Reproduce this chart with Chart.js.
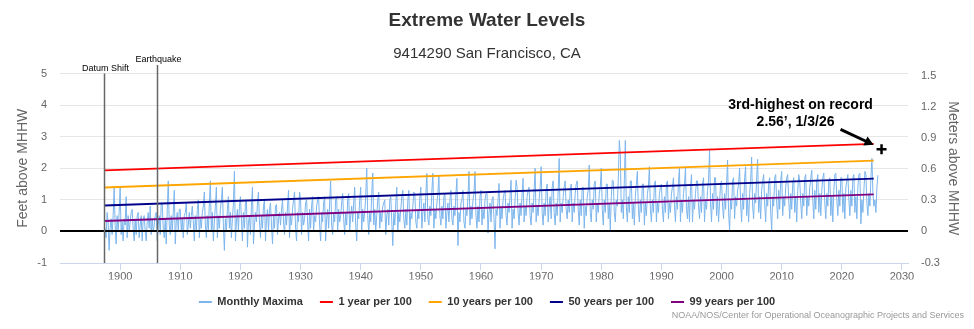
<!DOCTYPE html>
<html><head><meta charset="utf-8">
<script src="https://cdn.jsdelivr.net/npm/chart.js@4.4.0/dist/chart.umd.min.js"></script>
<style>html,body{margin:0;padding:0;background:#fff;}#wrap{width:974px;height:329px;}</style>
</head><body><div id="wrap"><canvas id="c" width="974" height="329"></canvas></div>
<script>
// ---------- text ----------
const chartTitle = 'Extreme Water Levels';
const chartSubtitle = '9414290 San Francisco, CA';
const creditText = 'NOAA/NOS/Center for Operational Oceanographic Projects and Services';
const leftAxisTitle = 'Feet above MHHW';
const rightAxisTitle = 'Meters above MHHW';

// ---------- ticks ----------
const xTickYears = [1900,1910,1920,1930,1940,1950,1960,1970,1980,1990,2000,2010,2020,2030];
const feetTicks = [-1,0,1,2,3,4,5];
const meterTicks = [-0.3,0,0.3,0.6,0.9,1.2,1.5];

// ---------- monthly maxima (feet above MHHW), read every 2 months from Jul 1897 ----------
const maximaStartYear = 1897.5;
const maximaStepYears = 1 / 6;
const maxima1897to1929 = [
  0.1,-0.2,0.6,
  0.3,-0.6,0.1,0.4,-0.1,0.5,
  1.4,0.2,-0.4,0.5,0.0,0.6,
  1.4,-0.1,0.3,-0.3,0.4,0.2,
  1.1,-0.2,0.5,0.0,0.3,0.6,
  0.7,0.1,-0.3,0.4,-0.1,0.5,
  0.6,-0.2,0.2,0.5,-0.3,0.4,
  0.5,0.0,-0.3,0.3,0.6,0.1,
  0.8,-0.1,0.4,0.0,0.2,0.5,
  0.6,-0.3,0.2,0.5,-0.1,0.9,
  0.9,0.1,-0.2,0.4,-0.4,0.7,
  1.6,0.2,-0.1,0.5,0.0,0.6,
  1.3,-0.4,0.3,0.6,0.0,0.7,
  0.7,0.0,0.4,-0.2,0.5,0.6,
  0.9,-0.1,0.2,0.6,0.1,0.5,
  0.8,0.3,-0.3,0.5,0.0,0.7,
  1.0,-0.2,0.4,0.1,0.6,0.8,
  1.25,0.2,-0.2,0.5,0.0,0.9,
  1.6,0.0,0.6,-0.3,0.3,0.8,
  1.4,-0.2,0.5,0.1,0.7,1.0,
  1.4,0.2,-0.6,0.4,0.0,0.7,
  1.1,0.1,0.6,-0.2,0.4,0.9,
  1.9,-0.3,0.3,0.7,0.0,0.8,
  1.1,0.4,-0.3,0.6,0.1,0.9,
  1.0,-0.5,0.3,0.5,-0.1,0.8,
  1.4,-0.4,0.2,0.6,0.3,0.9,
  1.25,0.3,-0.2,0.5,0.1,0.8,
  1.0,-0.3,0.4,0.7,0.0,0.7,
  0.9,0.2,-0.4,0.5,0.1,0.8,
  0.85,-0.1,0.4,0.6,0.2,0.7,
  1.0,0.3,-0.1,0.6,0.2,0.8,
  1.3,-0.2,0.5,0.2,0.7,1.0,
  1.25,0.1,-0.3,0.6,0.3,1.25
];
const maxima1930to1959 = [
  1.0,-0.1,0.6,0.2,0.4,0.9,
  1.0,0.3,-0.3,0.7,0.1,0.8,
  1.1,0.0,0.5,0.3,0.8,1.0,
  1.1,0.2,-0.3,0.6,0.3,0.9,
  1.1,-0.3,0.4,0.7,0.1,0.9,
  1.6,0.2,-0.1,0.6,0.3,1.0,
  1.1,0.0,0.7,0.3,0.5,0.9,
  1.2,0.4,-0.1,0.6,0.2,1.0,
  1.2,0.0,0.5,0.8,0.3,0.9,
  1.4,0.2,-0.3,0.6,0.4,1.0,
  1.4,0.0,0.7,0.3,0.6,1.1,
  2.0,0.5,-0.1,0.6,0.3,1.2,
  1.85,0.2,0.7,0.0,0.5,1.0,
  1.25,0.1,0.6,0.3,0.8,0.9,
  1.0,-0.1,0.5,0.7,0.2,1.0,
  1.1,0.3,-0.45,0.6,0.2,0.9,
  1.4,0.0,0.6,0.3,0.7,1.1,
  1.3,0.4,0.1,0.7,0.2,1.0,
  1.3,0.0,0.6,0.4,0.8,1.25,
  1.2,0.3,0.1,0.7,0.4,1.1,
  1.4,0.1,0.6,0.9,0.3,1.2,
  1.84,0.4,0.2,0.8,0.5,1.3,
  1.84,0.1,0.7,0.4,0.9,1.2,
  1.78,0.5,0.2,0.8,0.4,1.1,
  1.2,0.1,0.6,0.9,0.3,1.0,
  1.3,0.4,0.2,0.8,0.5,1.2,
  1.68,-0.45,0.6,0.3,0.9,1.0,
  1.3,0.3,0.1,0.7,0.5,1.1,
  1.9,0.2,0.8,0.4,1.0,1.2,
  1.9,0.5,0.1,0.8,0.3,1.1
];
const maxima1960to1989 = [
  1.3,0.2,0.7,0.4,1.0,1.2,
  1.2,-0.05,0.6,0.9,0.3,1.0,
  1.1,0.4,-0.55,0.7,0.5,1.0,
  1.52,0.1,0.8,0.4,1.0,1.2,
  1.3,0.5,0.2,0.9,0.6,1.1,
  1.62,0.1,0.7,0.4,1.0,1.62,
  1.4,0.6,0.2,0.9,0.5,1.2,
  1.68,0.3,0.8,0.5,1.1,1.3,
  1.4,0.5,0.2,0.9,0.6,1.3,
  2.0,0.3,0.8,0.5,1.0,1.4,
  2.05,0.6,0.2,0.9,0.5,1.3,
  1.5,0.3,0.8,1.1,0.4,1.4,
  1.6,0.6,0.2,0.9,0.5,1.3,
  2.31,0.3,0.9,0.6,1.1,1.4,
  1.6,0.7,0.4,1.0,0.6,1.3,
  1.5,0.3,0.9,0.6,1.2,1.5,
  1.6,0.7,0.2,1.0,0.5,1.4,
  1.4,0.1,0.8,0.5,1.1,1.3,
  2.1,0.6,0.3,1.0,0.7,1.5,
  1.6,0.3,0.9,0.6,1.2,1.4,
  2.0,0.7,0.2,1.0,0.6,1.5,
  1.5,0.4,0.9,0.05,1.1,1.62,
  1.6,0.6,0.3,1.0,0.8,1.7,
  2.88,2.47,0.6,1.0,0.4,1.6,
  2.88,0.8,0.3,1.1,0.6,1.6,
  1.6,0.4,0.9,0.2,1.1,1.5,
  1.9,0.7,0.3,1.0,0.6,1.5,
  1.5,0.2,0.9,0.5,1.2,1.4,
  2.05,0.7,0.3,1.0,0.6,1.5,
  1.6,0.3,0.9,0.6,1.2,1.4
];
const maxima1990to2026 = [
  1.5,0.7,0.3,1.1,0.6,1.5,
  1.6,0.4,0.9,0.6,1.2,1.4,
  1.7,0.8,0.3,1.1,0.7,1.6,
  2.0,0.3,1.0,0.6,1.2,1.5,
  2.0,0.7,0.4,1.1,0.3,1.4,
  1.8,0.3,1.0,0.7,1.2,1.6,
  1.6,0.8,0.4,1.1,0.6,1.5,
  1.7,0.3,1.0,0.7,1.3,1.6,
  2.58,0.9,0.3,1.2,0.7,1.7,
  1.7,0.5,1.1,0.3,0.9,1.5,
  1.6,0.8,0.4,1.2,0.7,1.5,
  2.26,0.6,0.03,1.0,0.7,1.6,
  1.7,0.4,1.1,0.8,1.3,1.5,
  2.0,0.9,0.3,1.2,0.7,1.7,
  2.05,0.5,1.0,0.3,1.2,1.6,
  2.35,0.8,0.4,1.2,0.9,1.7,
  2.28,0.6,1.1,0.4,1.3,1.6,
  1.8,0.9,0.3,1.2,0.8,1.5,
  1.7,0.6,0.03,1.1,0.8,1.7,
  1.8,0.9,0.4,1.3,0.7,1.6,
  1.9,0.5,1.1,0.8,1.4,1.7,
  1.8,1.0,0.4,1.2,0.7,1.5,
  1.7,0.6,1.1,0.3,1.3,1.8,
  1.6,0.9,0.4,1.2,0.8,1.7,
  1.8,0.5,1.1,0.8,1.4,1.7,
  1.94,1.0,0.4,1.3,0.7,1.6,
  1.8,0.6,1.2,0.5,1.3,1.7,
  1.85,0.9,0.4,1.2,0.8,1.6,
  1.7,0.5,1.1,0.3,1.3,1.8,
  1.84,1.0,0.5,1.3,0.8,1.7,
  1.7,0.6,1.2,0.4,1.4,1.6,
  1.8,1.0,0.5,1.3,0.8,1.7,
  1.8,0.6,1.1,0.4,1.4,1.8,
  1.84,0.24,1.0,0.6,1.3,1.9,
  1.8,0.9,0.5,1.2,0.8,1.7,
  2.31,1.2,0.8,1.0,0.6,1.4,
  1.78
];

// ---------- exceedance probability trend lines (feet) ----------
const trendYears = [1897.35, 2025.3];
const oneYearPer100 = [1.93, 2.77];
const tenYearsPer100 = [1.39, 2.24];
const fiftyYearsPer100 = [0.82, 1.67];
const ninetyNineYearsPer100 = [0.33, 1.17];

// ---------- events & annotation ----------
const eventYears = [1897.35, 1906.1];
const eventLabels = ['Datum Shift', 'Earthquake'];
const recordYear = [2026.6];
const recordFeet = [2.6];
const recordLabel = ['3rd-highest on record', '2.56\u2019, 1/3/26'];
const zeroLineFeet = 0;
const FT_TO_M = 0.3048;

// ---------- build ----------
const monthlyMaxima = [].concat(maxima1897to1929, maxima1930to1959, maxima1960to1989, maxima1990to2026);
const maximaPoints = monthlyMaxima.map((v, i) => ({x: maximaStartYear + i * maximaStepYears, y: v}));
const trendPts = arr => trendYears.map((yr, i) => ({x: yr, y: arr[i]}));

const FONT = '"Liberation Sans", Arial, sans-serif';

const headerPlugin = {
  id: 'header',
  afterDraw(chart) {
    const ctx = chart.ctx;
    ctx.save();
    ctx.fillStyle = '#333333';
    ctx.textAlign = 'center';
    ctx.textBaseline = 'middle';
    ctx.font = 'bold 19px ' + FONT;
    ctx.fillText(chartTitle, 487, 21);
    ctx.font = '15px ' + FONT;
    ctx.fillText(chartSubtitle, 487, 54);
    ctx.fillStyle = '#999999';
    ctx.textAlign = 'right';
    ctx.font = '9px ' + FONT;
    ctx.fillText(creditText, 964, 316);
    ctx.restore();
  }
};

const overlayPlugin = {
  id: 'overlay',
  afterDatasetsDraw(chart) {
    const ctx = chart.ctx, xs = chart.scales.x, ys = chart.scales.y, area = chart.chartArea;
    ctx.save();
    const y0 = Math.round(ys.getPixelForValue(zeroLineFeet));
    ctx.strokeStyle = '#000';
    ctx.lineWidth = 2;
    ctx.beginPath(); ctx.moveTo(area.left, y0); ctx.lineTo(area.right, y0); ctx.stroke();
    const labelY = [69, 60];
    const lineTop = [area.top, 65];
    ctx.font = '9px ' + FONT;
    ctx.textAlign = 'center';
    ctx.textBaseline = 'middle';
    eventYears.forEach((yr, i) => {
      const px = Math.round(xs.getPixelForValue(yr)) + 0.5;
      ctx.strokeStyle = '#666';
      ctx.lineWidth = 1.5;
      ctx.beginPath(); ctx.moveTo(px, lineTop[i]); ctx.lineTo(px, area.bottom); ctx.stroke();
      ctx.fillStyle = '#000';
      ctx.fillText(eventLabels[i], px + 1, labelY[i]);
    });
    ctx.restore();
  },
  afterDraw(chart) {
    const ctx = chart.ctx, xs = chart.scales.x, ys = chart.scales.y;
    const px = xs.getPixelForValue(recordYear[0]);
    const py = ys.getPixelForValue(recordFeet[0]);
    ctx.save();
    ctx.fillStyle = '#000';
    ctx.font = 'bold 14px ' + FONT;
    ctx.textAlign = 'center';
    ctx.textBaseline = 'middle';
    ctx.fillText(recordLabel[0], px - 81, py - 44);
    ctx.fillText(recordLabel[1], px - 86, py - 27);
    const x1 = px - 41, y1 = py - 20, x2 = px - 8, y2 = py - 4.5;
    const ang = Math.atan2(y2 - y1, x2 - x1);
    ctx.strokeStyle = '#000';
    ctx.lineWidth = 3;
    ctx.beginPath(); ctx.moveTo(x1, y1); ctx.lineTo(x2 - 6 * Math.cos(ang), y2 - 6 * Math.sin(ang)); ctx.stroke();
    ctx.beginPath();
    ctx.moveTo(x2, y2);
    ctx.lineTo(x2 - 9 * Math.cos(ang) + 5 * Math.sin(ang), y2 - 9 * Math.sin(ang) - 5 * Math.cos(ang));
    ctx.lineTo(x2 - 9 * Math.cos(ang) - 5 * Math.sin(ang), y2 - 9 * Math.sin(ang) + 5 * Math.cos(ang));
    ctx.closePath(); ctx.fill();
    ctx.restore();
  }
};

const lineDs = (label, data, color, width, order) => ({
  label, data, borderColor: color, backgroundColor: color, borderWidth: width,
  pointRadius: 0, tension: 0, fill: false, order
});

new Chart(document.getElementById('c'), {
  type: 'line',
  data: {
    datasets: [
      lineDs('Monthly Maxima', maximaPoints, '#7cb5ec', 1, 10),
      lineDs('1 year per 100', trendPts(oneYearPer100), '#ff0000', 1.8, 4),
      lineDs('10 years per 100', trendPts(tenYearsPer100), '#ffa500', 1.8, 3),
      lineDs('50 years per 100', trendPts(fiftyYearsPer100), '#00008b', 1.8, 2),
      lineDs('99 years per 100', trendPts(ninetyNineYearsPer100), '#800080', 1.8, 1),
      {
        label: 'record', data: recordYear.map((yr, i) => ({x: yr, y: recordFeet[i]})),
        showLine: false, pointStyle: 'cross', pointRadius: 5, borderWidth: 2.5,
        borderColor: '#000', backgroundColor: '#000', order: 0
      }
    ]
  },
  options: {
    responsive: false,
    animation: false,
    layout: {padding: {top: 73.5, bottom: 11.5, left: 0, right: 0}},
    plugins: {
      title: {display: false},
      tooltip: {enabled: false},
      legend: {
        position: 'bottom',
        labels: {
          boxWidth: 13, boxHeight: 2, padding: 17, color: '#333333',
          font: {family: FONT, size: 11, weight: 'bold'},
          filter: item => item.text !== 'record',
          sort: (a, b) => a.datasetIndex - b.datasetIndex,
          generateLabels: chart => Chart.defaults.plugins.legend.labels.generateLabels(chart)
            .map(it => Object.assign(it, {fillStyle: it.strokeStyle, lineWidth: 0}))
        }
      }
    },
    scales: {
      x: {
        type: 'linear', min: 1890, max: 2031,
        afterBuildTicks: s => { s.ticks = xTickYears.map(v => ({value: v})); },
        afterFit: s => { s.height = 16.5; },
        grid: {drawOnChartArea: false, drawTicks: true, tickLength: 7, color: '#ccd6eb'},
        border: {display: true, color: '#ccd6eb', width: 1},
        ticks: {padding: 0, color: '#666666', font: {family: FONT, size: 11}, callback: v => String(v), maxRotation: 0, autoSkip: false}
      },
      y: {
        type: 'linear', position: 'left', min: -1, max: 5,
        afterBuildTicks: s => { s.ticks = feetTicks.map(v => ({value: v})); },
        afterFit: s => { s.width = 60; },
        grid: {drawTicks: false, color: ctx => ctx.tick && ctx.tick.value === -1 ? '#ccd6eb' : '#e6e6e6', lineWidth: 1},
        border: {display: false},
        ticks: {padding: 13, color: '#666666', font: {family: FONT, size: 11}, callback: v => String(v)},
        title: {display: true, text: leftAxisTitle, color: '#666666', font: {family: FONT, size: 14}, padding: {top: 14.6, bottom: 0}}
      },
      y2: {
        type: 'linear', position: 'right', min: -1 * FT_TO_M, max: 5 * FT_TO_M,
        afterBuildTicks: s => { s.ticks = meterTicks.map(v => ({value: v})); },
        afterFit: s => { s.width = 66; },
        grid: {drawOnChartArea: false, drawTicks: false},
        border: {display: false},
        ticks: {padding: 13, color: '#666666', font: {family: FONT, size: 11}, callback: v => (v === 0 ? '0' : v.toFixed(1))},
        title: {display: true, text: rightAxisTitle, color: '#666666', font: {family: FONT, size: 14}, padding: {top: 12.6, bottom: 0}}
      }
    }
  },
  plugins: [headerPlugin, overlayPlugin]
});
</script>
</body></html>
